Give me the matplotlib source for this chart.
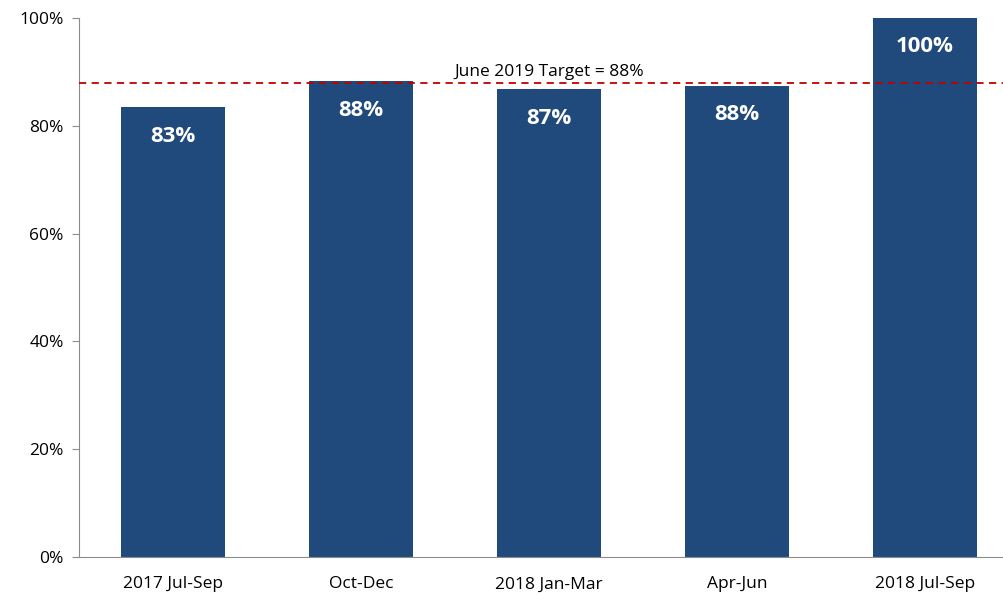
import matplotlib
matplotlib.use('Agg')
import matplotlib.pyplot as plt
from matplotlib.ticker import PercentFormatter

# данные
categories = ['2017 Jul-Sep', 'Oct-Dec', '2018 Jan-Mar', 'Apr-Jun', '2018 Jul-Sep']
values = [83.4, 88.3, 86.8, 87.4, 100.0]
labels = ['83%', '88%', '87%', '88%', '100%']
target = 88.0
target_label = 'June 2019 Target = 88%'

plt.rcParams['font.family'] = ['Open Sans', 'DejaVu Sans']

fig = plt.figure(figsize=(10.04, 5.95), dpi=100)
# правый край оси выходит за границу картинки
ax = fig.add_axes([79 / 1004, 38 / 595, 940 / 1004, 539 / 595])

x = range(len(categories))
bars = ax.bar(x, values, width=0.553, color='#214a7c', zorder=2)

for b, lab in zip(bars, labels):
    ax.annotate(lab, (b.get_x() + b.get_width() / 2, b.get_height()),
                xytext=(0, -29), textcoords='offset pixels',
                ha='center', va='center', color='white',
                fontsize=16, fontweight='bold')

ax.axhline(target, color='#c00000', linestyle=(0, (4, 3)), linewidth=1.3, zorder=3)
ax.text(2, target + 0.5, target_label, ha='center', va='bottom', fontsize=12.5)

ax.set_xlim(-0.5, len(categories) - 0.5)
ax.set_ylim(0, 100)
ax.set_yticks(range(0, 101, 20))
ax.yaxis.set_major_formatter(PercentFormatter(decimals=0))
ax.set_xticks(list(x))
ax.set_xticklabels(categories)

for s in ['top', 'right']:
    ax.spines[s].set_visible(False)
for s in ['left', 'bottom']:
    ax.spines[s].set_color('#8c8c8c')
ax.tick_params(axis='y', length=5, color='#8c8c8c', labelsize=12.5, pad=6)
ax.tick_params(axis='x', length=0, labelsize=12.5, pad=14)

fig.savefig('out.png', dpi=100)
